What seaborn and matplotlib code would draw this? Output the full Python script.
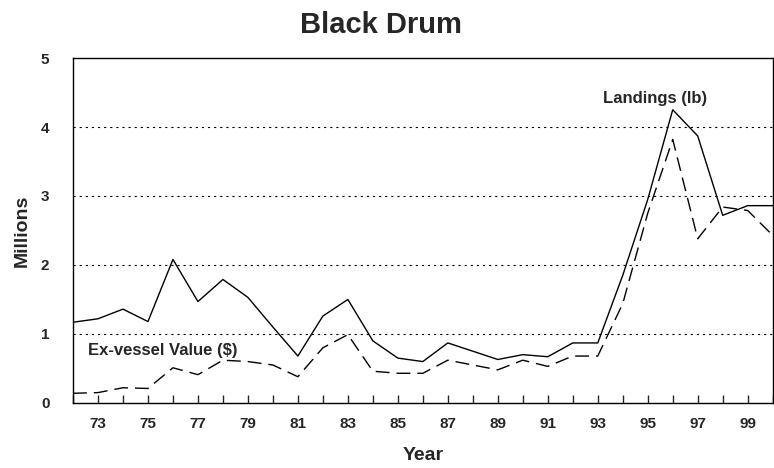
import pandas as pd
import matplotlib.pyplot as plt
import seaborn as sns

# ===================== 数据（读图估计，单位：百万） =====================
years = list(range(72, 101))
landings = [1.17, 1.22, 1.36, 1.18, 2.08, 1.47, 1.79, 1.53, 1.10, 0.68,
            1.26, 1.50, 0.90, 0.65, 0.60, 0.87, 0.75, 0.63, 0.70, 0.67,
            0.87, 0.87, 1.85, 2.95, 4.25, 3.87, 2.72, 2.86, 2.86]
value = [0.14, 0.15, 0.22, 0.21, 0.51, 0.41, 0.62, 0.60, 0.55, 0.38,
         0.80, 0.99, 0.46, 0.43, 0.43, 0.62, 0.55, 0.48, 0.62, 0.53,
         0.68, 0.68, 1.44, 2.75, 3.82, 2.38, 2.84, 2.79, 2.43]
xtick_years = list(range(73, 100, 2))
ytick_vals = [0, 1, 2, 3, 4, 5]

df = pd.DataFrame({"year": years, "landings": landings, "value": value})

sns.set_style("ticks")
plt.rcParams['font.family'] = ['Liberation Sans Narrow', 'Liberation Sans', 'DejaVu Sans']

fig = plt.figure(figsize=(7.74, 4.68), dpi=100)
ax = fig.add_axes([0.0943, 0.139, 0.904, 0.737])

sns.lineplot(data=df, x="year", y="landings", ax=ax, color="black", linewidth=1.0)
sns.lineplot(data=df, x="year", y="value", ax=ax, color="black", linewidth=1.0,
             dashes=False)
ax.lines[-1].set_dashes((10, 5))

# 网格线（虚点）
for v in ytick_vals[1:-1]:
    ax.axhline(v, color="black", linestyle=(0, (2, 3.5)), linewidth=0.8, zorder=0)

ax.set_xlim(72, 100)
ax.set_ylim(0, 5)
ax.set_xticks(years, minor=True)
ax.set_xticks(xtick_years)
ax.set_xticklabels([str(y) for y in xtick_years], fontsize=11, fontweight="bold")
ax.set_yticks(ytick_vals)
ax.set_yticklabels([str(v) for v in ytick_vals], fontsize=11, fontweight="bold")
ax.tick_params(axis="x", which="both", direction="in", length=6, width=1, pad=10)
ax.tick_params(axis="y", length=0, pad=17)

for s in ax.spines.values():
    s.set_linewidth(1.0)
    s.set_color("black")

ax.set_xlabel("Year", fontsize=14, fontweight="bold")
ax.set_ylabel("Millions", fontsize=14, fontweight="bold")
ax.xaxis.set_label_coords(0.5, -0.128)
ax.yaxis.set_label_coords(-0.061, 0.5)
fig.text(0.492, 0.947, "Black Drum", fontsize=21, fontweight="bold",
         ha="center", va="center")

ax.text(93.2, 4.35, "Landings (lb)", fontsize=12, fontweight="bold")
ax.text(72.6, 0.7, "Ex-vessel Value ($)", fontsize=12, fontweight="bold")

fig.savefig("out.png", dpi=100)
plt.close(fig)
